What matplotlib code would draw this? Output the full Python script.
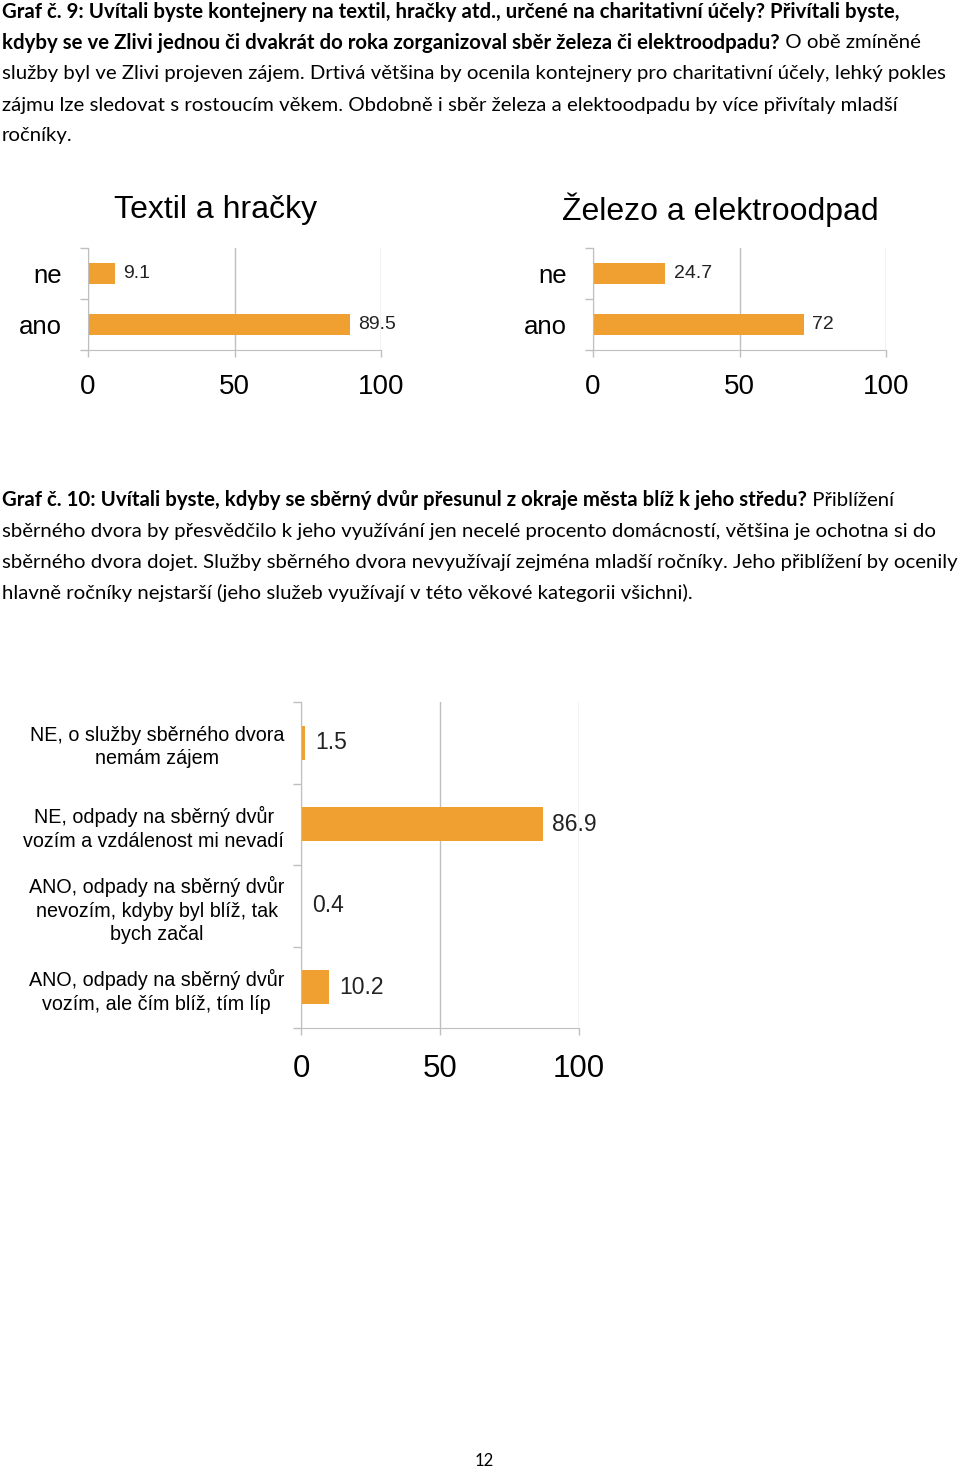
import matplotlib
matplotlib.use('Agg')
from matplotlib import pyplot as plt

# data
cats_small = ["ano", "ne"]
textil_vals = [89.5, 9.1]
textil_lbls = ["89.5", "9.1"]
zelezo_vals = [72, 24.7]
zelezo_lbls = ["72", "24.7"]

dvur_cats = [
    "ANO, odpady na sběrný dvůr\nvozím, ale čím blíž, tím líp",
    "ANO, odpady na sběrný dvůr\nnevozím, kdyby byl blíž, tak\nbych začal",
    "NE, odpady na sběrný dvůr\nvozím a vzdálenost mi nevadí",
    "NE, o služby sběrného dvora\nnemám zájem",
]
dvur_vals = [10.2, 0.4, 86.9, 1.5]
dvur_lbls = ["10.2", "0.4", "86.9", "1.5"]

xticks = [0, 50, 100]

# paragraph lines: (bold part, regular part)
para9 = [
    ("Graf č. 9: Uvítali byste kontejnery na textil, hračky atd., určené na charitativní účely? Přivítali byste,", ""),
    ("kdyby se ve Zlivi jednou či dvakrát do roka zorganizoval sběr železa či elektroodpadu?", " O obě zmíněné"),
    ("", "služby byl ve Zlivi projeven zájem. Drtivá většina by ocenila kontejnery pro charitativní účely, lehký pokles"),
    ("", "zájmu lze sledovat s rostoucím věkem. Obdobně i sběr železa a elektoodpadu by více přivítaly mladší"),
    ("", "ročníky."),
]
para10 = [
    ("Graf č. 10: Uvítali byste, kdyby se sběrný dvůr přesunul z okraje města blíž k jeho středu?", " Přiblížení"),
    ("", "sběrného dvora by přesvědčilo k jeho využívání jen necelé procento domácností, většina je ochotna si do"),
    ("", "sběrného dvora dojet. Služby sběrného dvora nevyužívají zejména mladší ročníky. Jeho přiblížení by ocenily"),
    ("", "hlavně ročníky nejstarší (jeho služeb využívají v této věkové kategorii všichni)."),
]

W, H = 960, 1471
ORANGE = "#F0A030"
GRID = "#BFBFBF"
BODY_FONT = "Lato"
CHART_FONT = "Liberation Sans"

fig = plt.figure(figsize=(W / 100, H / 100), dpi=100)
renderer = fig.canvas.get_renderer()


def write_para(lines, y0, step=31, size=14.7):
    for i, (b, r) in enumerate(lines):
        y = 1 - (y0 + i * step) / H
        x = 2 / W
        if b:
            t = fig.text(x, y, b, fontsize=size, fontweight="bold", family=BODY_FONT,
                         va="center", ha="left")
            bb = t.get_window_extent(renderer)
            x = bb.x1 / W
        if r:
            fig.text(x, y, r, fontsize=size, family=BODY_FONT, va="center", ha="left")


def bar_chart(rect, cats, vals, lbls, cat_size, cat_pad, tick_size, tick_pad,
              val_size, val_pad, linespacing=1.2):
    ax = fig.add_axes(rect)
    pos = list(range(len(cats)))
    ax.barh(pos, vals, height=0.42, color=ORANGE, zorder=2)
    ax.set_xlim(0, 100)
    ax.set_ylim(-0.5, len(cats) - 0.5)
    ax.set_xticks(xticks)
    ax.set_xticklabels([str(t) for t in xticks], fontsize=tick_size, family=CHART_FONT)
    ax.set_yticks(pos)
    ax.set_yticklabels(cats, fontsize=cat_size, family=CHART_FONT,
                       multialignment="center", linespacing=linespacing)
    ax.set_yticks([p - 0.5 for p in pos] + [len(cats) - 0.5], minor=True)
    ax.tick_params(axis="y", which="major", length=0, pad=cat_pad)
    ax.tick_params(axis="y", which="minor", length=6, color=GRID, width=1)
    ax.tick_params(axis="x", length=5, color=GRID, width=1, pad=tick_pad)
    ax.xaxis.grid(True, color=GRID, lw=1, zorder=0)
    for s in ["top", "right"]:
        ax.spines[s].set_visible(False)
    for s in ["left", "bottom"]:
        ax.spines[s].set_color(GRID)
    for p, v, l in zip(pos, vals, lbls):
        ax.annotate(l, (v, p), xytext=(val_pad, 0), textcoords="offset points",
                    va="center", ha="left", fontsize=val_size, family=CHART_FONT,
                    color="#222222")
    return ax


write_para(para9, 12)
write_para(para10, 500)

# chart 9 left
bar_chart([88 / W, 1 - 350 / H, 293 / W, 102 / H], cats_small, textil_vals, textil_lbls,
          cat_size=18.5, cat_pad=19, tick_size=20, tick_pad=12, val_size=14, val_pad=6)
fig.text(216 / W, 1 - 210 / H, "Textil a hračky", fontsize=23, family=CHART_FONT,
         ha="center", va="center")
# chart 9 right
bar_chart([593 / W, 1 - 350 / H, 293 / W, 102 / H], cats_small, zelezo_vals, zelezo_lbls,
          cat_size=18.5, cat_pad=19, tick_size=20, tick_pad=12, val_size=14, val_pad=6)
fig.text(720 / W, 1 - 210 / H, "Železo a elektroodpad", fontsize=23, family=CHART_FONT,
         ha="center", va="center")
# chart 10
bar_chart([301 / W, 1 - 1028 / H, 278 / W, 326 / H], dvur_cats, dvur_vals, dvur_lbls,
          cat_size=14.2, cat_pad=12, tick_size=22.5, tick_pad=14, val_size=16.5, val_pad=7,
          linespacing=1.3)

fig.text(484 / W, 1 - 1461 / H, "12", fontsize=12, family=BODY_FONT, ha="center", va="center")

fig.savefig("out.png", dpi=100)
